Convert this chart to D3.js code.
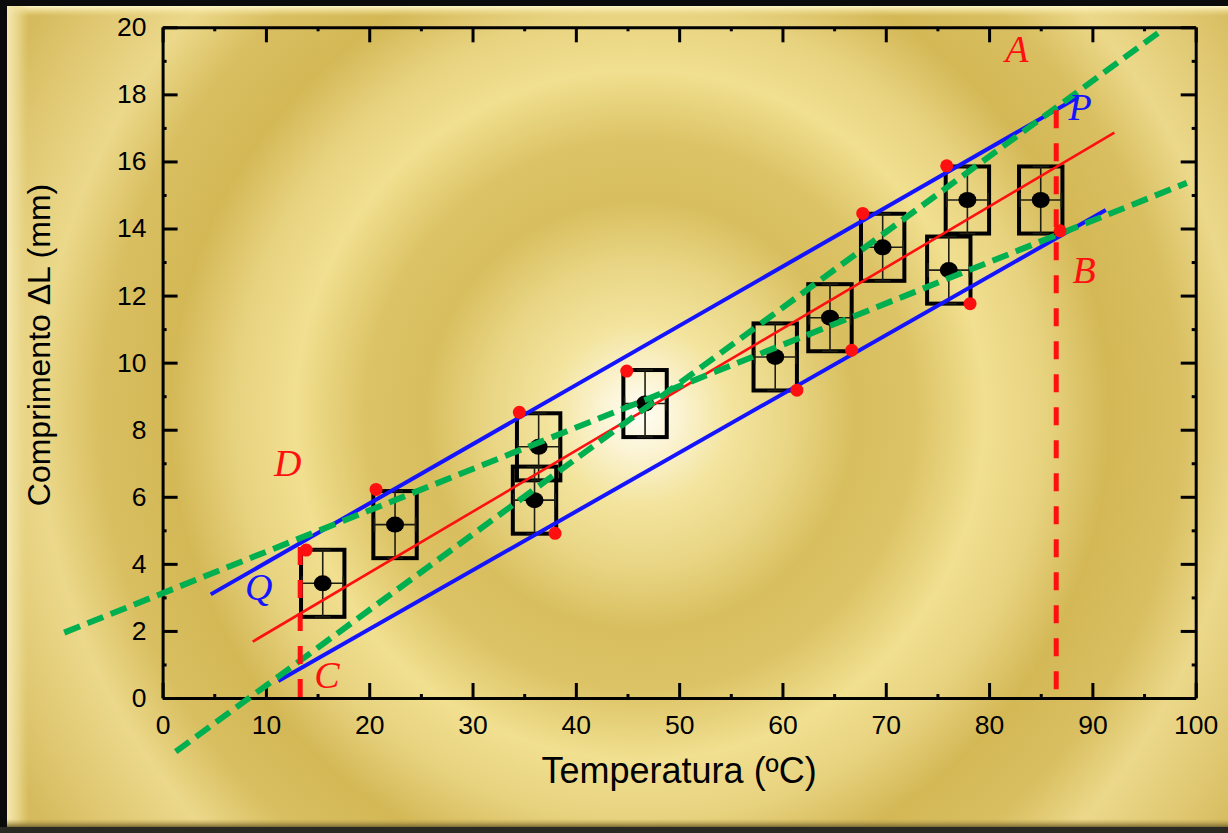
<!DOCTYPE html>
<html>
<head>
<meta charset="utf-8">
<script src="https://cdn.jsdelivr.net/npm/d3@7"></script>
<style>
  html, body { margin: 0; padding: 0; background: #000; }
  svg { display: block; }
</style>
</head>
<body>
<svg id="chart" width="1228" height="833"></svg>
<script>
// Measured thermal expansion: temperature (ºC) vs length change ΔL (mm)
const temperatures = [15.5, 22.5, 36.4, 36.0, 46.7, 59.3, 64.6, 69.7, 76.1, 77.9, 85.0];
const lengths      = [3.42, 5.17, 7.49, 5.90, 8.78, 10.17, 11.34, 13.44, 12.76, 14.85, 14.85];
const temperatureError = 2;   // ± ºC
const lengthError = 1;        // ± mm

// Extreme corners of the uncertainty boxes used to bound the slope
const cornerTemps   = [13.9, 20.66, 34.53, 37.99, 44.93, 61.4, 66.7, 67.77, 78.16, 75.9, 86.87];
const cornerLengths = [4.41, 6.22, 8.52, 4.91, 9.75, 9.18, 10.37, 14.45, 11.76, 15.87, 13.93];

// Straight lines given by their end points [temperature, length]
const bestFit   = [[8.72, 1.68], [92.13, 16.86]];
const upperLine = [[4.66, 3.09], [88.64, 17.92]];   // Q → P
const lowerLine = [[11.2, 0.51], [91.3, 14.55]];
const steepLine = [[1.27, -1.6], [96.4, 19.84]];    // C → A
const flatLine  = [[-9.52, 1.95], [99.14, 15.36]];  // D → B

// Vertical guides at the ends of the temperature range
const guides = [
  { t: 13.32, from: 0, to: 4.5 },
  { t: 86.5, from: 0.15, to: 17.53 }
];

// Point labels
const labelNames  = ["A", "P", "B", "C", "D", "Q"];
const labelTemps  = [82.7, 88.8, 89.2, 15.9, 12.1, 9.3];
const labelLens   = [19.36, 17.62, 12.76, 0.69, 7.0, 3.3];
const labelColors = ["#ff1010", "#1414ff", "#ff1010", "#ff1010", "#ff1010", "#1414ff"];

const xTicks = [0, 10, 20, 30, 40, 50, 60, 70, 80, 90, 100];
const yTicks = [0, 2, 4, 6, 8, 10, 12, 14, 16, 18, 20];
const xMinor = [5, 15, 25, 35, 45, 55, 65, 75, 85, 95];
const yMinor = [1, 3, 5, 7, 9, 11, 13, 15, 17, 19];

const W = 1228, H = 833;
const svg = d3.select("#chart");
const defs = svg.append("defs");

// Gold background with concentric rings around a bright centre
const gold = defs.append("radialGradient")
  .attr("id", "gold").attr("gradientUnits", "userSpaceOnUse")
  .attr("cx", 640).attr("cy", 415).attr("r", 720);
[
  [0, "#fffef6"], [40, "#fbf3d2"], [90, "#f3e49e"], [150, "#e9d685"],
  [215, "#d8be5e"], [275, "#dcc366"], [345, "#f1e090"], [405, "#e7d27f"],
  [470, "#d4b856"], [540, "#d9bf61"], [600, "#ebd88a"], [670, "#e0c872"], [720, "#d6bb5e"]
].forEach(([r, c]) => gold.append("stop").attr("offset", r / 720).attr("stop-color", c));

const topBevel = defs.append("linearGradient").attr("id", "topBevel")
  .attr("x1", 0).attr("y1", 0).attr("x2", 0).attr("y2", 1);
topBevel.append("stop").attr("offset", 0).attr("stop-color", "#fff6c8").attr("stop-opacity", 1);
topBevel.append("stop").attr("offset", 1).attr("stop-color", "#f3e39a").attr("stop-opacity", 0);

const leftBevel = defs.append("linearGradient").attr("id", "leftBevel")
  .attr("x1", 0).attr("y1", 0).attr("x2", 1).attr("y2", 0);
leftBevel.append("stop").attr("offset", 0).attr("stop-color", "#f6e9b2").attr("stop-opacity", 1);
leftBevel.append("stop").attr("offset", 0.5).attr("stop-color", "#efdf9c").attr("stop-opacity", 0.7);
leftBevel.append("stop").attr("offset", 1).attr("stop-color", "#e8d486").attr("stop-opacity", 0);

const bottomBevel = defs.append("linearGradient").attr("id", "bottomBevel")
  .attr("x1", 0).attr("y1", 0).attr("x2", 0).attr("y2", 1);
bottomBevel.append("stop").attr("offset", 0).attr("stop-color", "#b89e4a").attr("stop-opacity", 0);
bottomBevel.append("stop").attr("offset", 1).attr("stop-color", "#7a6a34").attr("stop-opacity", 1);

// Frame
svg.append("rect").attr("width", W).attr("height", H).attr("fill", "#0b0b0b");
svg.append("rect").attr("x", 7).attr("y", 6).attr("width", W - 7).attr("height", 821).attr("fill", "url(#gold)");
svg.append("rect").attr("x", 7).attr("y", 6).attr("width", W - 7).attr("height", 10).attr("fill", "url(#topBevel)");
svg.append("rect").attr("x", 7).attr("y", 6).attr("width", 22).attr("height", 821).attr("fill", "url(#leftBevel)");
svg.append("rect").attr("x", 7).attr("y", 819).attr("width", W - 7).attr("height", 8).attr("fill", "url(#bottomBevel)");
svg.append("rect").attr("x", 0).attr("y", 827).attr("width", W).attr("height", 6).attr("fill", "#2a2a22");

// Scales
const x0 = 162.6, x1 = 1195.7, y0 = 698, y1 = 27.3;
const x = d3.scaleLinear().domain([0, 100]).range([x0, x1]);
const y = d3.scaleLinear().domain([0, 20]).range([y0, y1]);

// Axes: inward ticks on all four sides, labels on bottom and left
const tickFont = "'Liberation Sans', Arial, sans-serif";
function styleAxis(g, labels) {
  g.select(".domain").attr("stroke", "#000").attr("stroke-width", 3);
  g.selectAll(".tick line").attr("stroke", "#000").attr("stroke-width", 3);
  g.selectAll(".tick text").attr("font-family", tickFont).attr("font-size", 26.5).attr("fill", "#000");
  if (!labels) g.selectAll(".tick text").remove();
}

const gx = svg.append("g").attr("transform", `translate(0,${y0})`)
  .call(d3.axisBottom(x).tickValues(xTicks).tickFormat(d3.format("d")).tickSizeInner(-15).tickSizeOuter(0).tickPadding(17));
styleAxis(gx, true);
const gxt = svg.append("g").attr("transform", `translate(0,${y1})`)
  .call(d3.axisTop(x).tickValues(xTicks).tickSizeInner(-15).tickSizeOuter(0));
styleAxis(gxt, false);
const gy = svg.append("g").attr("transform", `translate(${x0},0)`)
  .call(d3.axisLeft(y).tickValues(yTicks).tickFormat(d3.format("d")).tickSizeInner(-15).tickSizeOuter(0).tickPadding(16));
styleAxis(gy, true);
const gyr = svg.append("g").attr("transform", `translate(${x1},0)`)
  .call(d3.axisRight(y).tickValues(yTicks).tickSizeInner(-15).tickSizeOuter(0));
styleAxis(gyr, false);

// Minor ticks
[
  [d3.axisBottom(x).tickValues(xMinor), `translate(0,${y0})`],
  [d3.axisTop(x).tickValues(xMinor), `translate(0,${y1})`],
  [d3.axisLeft(y).tickValues(yMinor), `translate(${x0},0)`],
  [d3.axisRight(y).tickValues(yMinor), `translate(${x1},0)`]
].forEach(([ax, tr]) => {
  const g = svg.append("g").attr("transform", tr)
    .call(ax.tickSizeInner(-4).tickSizeOuter(0).tickFormat(""));
  g.select(".domain").remove();
  g.selectAll(".tick line").attr("stroke", "#000").attr("stroke-width", 3);
});

// Axis titles
svg.append("text")
  .attr("x", (x0 + x1) / 2).attr("y", 783)
  .attr("text-anchor", "middle")
  .attr("font-family", tickFont).attr("font-size", 36).attr("fill", "#000")
  .text("Temperatura (ºC)");
svg.append("text")
  .attr("transform", "translate(50,345) rotate(-90)")
  .attr("text-anchor", "middle")
  .attr("font-family", tickFont).attr("font-size", 32).attr("fill", "#000")
  .text("Comprimento ΔL (mm)");

const pts = temperatures.map((t, i) => ({ t, l: lengths[i] }));

// Uncertainty boxes
const gBoxes = svg.append("g");
gBoxes.selectAll("rect").data(pts).join("rect")
  .attr("x", d => x(d.t - 2.1)).attr("y", d => y(d.l + 1.0))
  .attr("width", d => x(d.t + 2.1) - x(d.t - 2.1))
  .attr("height", d => y(d.l - 1.0) - y(d.l + 1.0))
  .attr("fill", "none").attr("stroke", "#000").attr("stroke-width", 4);

// Error bars with caps
const gErr = svg.append("g").attr("stroke", "#1e1e14").attr("stroke-width", 1.6);
pts.forEach(d => {
  gErr.append("line").attr("x1", x(d.t - temperatureError)).attr("x2", x(d.t + temperatureError))
    .attr("y1", y(d.l)).attr("y2", y(d.l));
  gErr.append("line").attr("x1", x(d.t)).attr("x2", x(d.t))
    .attr("y1", y(d.l - lengthError)).attr("y2", y(d.l + lengthError));
  [d.t - temperatureError, d.t + temperatureError].forEach(v =>
    gErr.append("line").attr("x1", x(v)).attr("x2", x(v)).attr("y1", y(d.l) - 7).attr("y2", y(d.l) + 7));
  [d.l - lengthError, d.l + lengthError].forEach(v =>
    gErr.append("line").attr("x1", x(d.t) - 8).attr("x2", x(d.t) + 8).attr("y1", y(v)).attr("y2", y(v)));
});

// Data points
svg.append("g").selectAll("ellipse").data(pts).join("ellipse")
  .attr("cx", d => x(d.t)).attr("cy", d => y(d.l))
  .attr("rx", 9).attr("ry", 8).attr("fill", "#000");

// Lines
const line = d3.line().x(d => x(d[0])).y(d => y(d[1]));
svg.append("path").attr("d", line(bestFit)).attr("fill", "none")
  .attr("stroke", "#ff1010").attr("stroke-width", 2.6);
[upperLine, lowerLine].forEach(l =>
  svg.append("path").attr("d", line(l)).attr("fill", "none")
    .attr("stroke", "#1414ff").attr("stroke-width", 4));
[steepLine, flatLine].forEach(l =>
  svg.append("path").attr("d", line(l)).attr("fill", "none")
    .attr("stroke", "#00b050").attr("stroke-width", 6).attr("stroke-dasharray", "17,8"));

// Vertical dashed guides
guides.forEach(g =>
  svg.append("path").attr("d", line([[g.t, g.to], [g.t, g.from]])).attr("fill", "none")
    .attr("stroke", "#ff1010").attr("stroke-width", 5).attr("stroke-dasharray", "18,15"));

// Box corner markers
svg.append("g").selectAll("circle").data(cornerTemps.map((t, i) => [t, cornerLengths[i]])).join("circle")
  .attr("cx", d => x(d[0])).attr("cy", d => y(d[1])).attr("r", 6.5).attr("fill", "#ff1010");

// Letter labels
svg.append("g").selectAll("text").data(labelNames).join("text")
  .attr("x", (d, i) => x(labelTemps[i])).attr("y", (d, i) => y(labelLens[i]))
  .attr("text-anchor", "middle").attr("dominant-baseline", "central")
  .attr("font-family", "'Liberation Serif', 'Times New Roman', serif")
  .attr("font-style", "italic").attr("font-size", 38)
  .attr("fill", (d, i) => labelColors[i])
  .text(d => d);
</script>
</body>
</html>
